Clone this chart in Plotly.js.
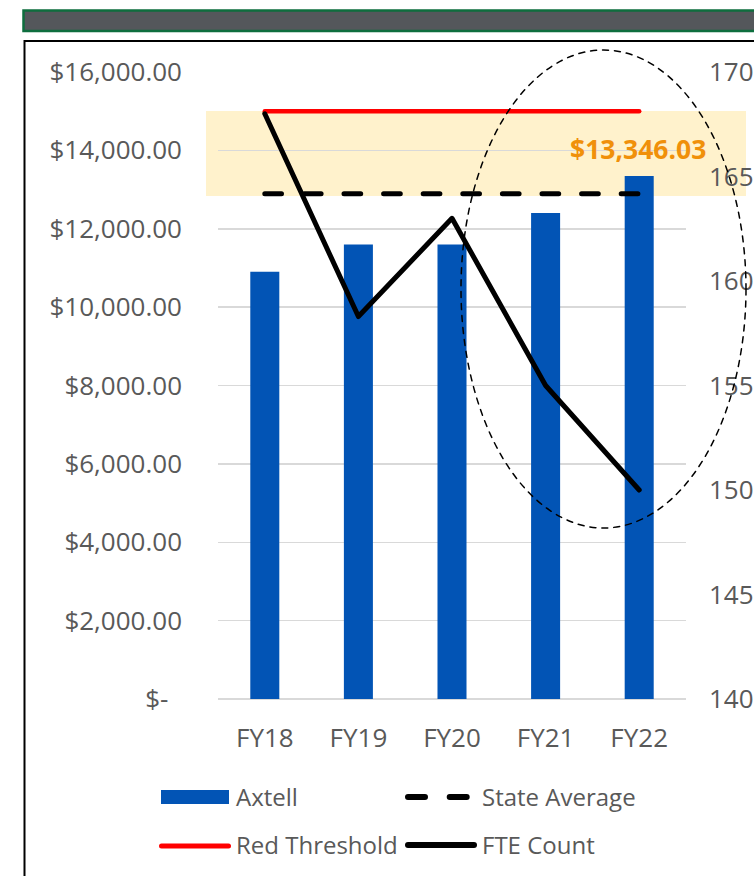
<!DOCTYPE html>
<html>
<head>
<meta charset="utf-8">
<script src="https://cdn.plot.ly/plotly-3.0.1.min.js"></script>
<style>
  html, body { margin: 0; padding: 0; background: #ffffff; }
  #chart { width: 754px; height: 876px; }
  .scatterlayer .js-line { stroke-linecap: round !important; stroke-linejoin: round !important; }
  .shapelayer path { stroke-linecap: round; }
</style>
</head>
<body>
<div id="chart"></div>
<script>
// ---- data ----
const categories = ['FY18', 'FY19', 'FY20', 'FY21', 'FY22'];
const axtell = [10900, 11600, 11600, 12400, 13346.03];
const stateAverage = [12890, 12890, 12890, 12890, 12890];
const redThreshold = [15000, 15000, 15000, 15000, 15000];
const fteCount = [168, 158.3, 163, 155, 150];
const leftTickVals = [0, 2000, 4000, 6000, 8000, 10000, 12000, 14000, 16000];
const leftTickText = ['$-\u00a0\u00a0', '$2,000.00', '$4,000.00', '$6,000.00', '$8,000.00',
                      '$10,000.00', '$12,000.00', '$14,000.00', '$16,000.00'];
const rightTickVals = [140, 145, 150, 155, 160, 165, 170];
const seriesNames = ['Axtell', 'State Average', 'Red Threshold', 'FTE Count'];
const highlightedIndex = 4;

// ---- styles ----
const FONT = 'Open Sans, Noto Sans, sans-serif';
const GREY_TEXT = '#595959';
const BAR_BLUE = '#0254B5';
const ORANGE = '#F0900A';
const M = { l: 218, r: 68, t: 72, b: 177 };
const W = 754, H = 876;
const PW = W - M.l - M.r, PH = H - M.t - M.b;
const px = v => (v - M.l) / PW;          // page pixel x -> paper
const py = v => (H - M.b - v) / PH;      // page pixel y -> paper

const fmtMoney = v => '$' + v.toLocaleString('en-US', { minimumFractionDigits: 2, maximumFractionDigits: 2 });

const traces = [
  { type: 'bar', name: seriesNames[0], x: categories, y: axtell, yaxis: 'y',
    marker: { color: BAR_BLUE }, hoverinfo: 'skip' },
  { type: 'scatter', mode: 'lines', name: seriesNames[2], x: categories, y: redThreshold, yaxis: 'y',
    line: { color: '#FF0000', width: 4.5 }, hoverinfo: 'skip' },
  { type: 'scatter', mode: 'lines', name: seriesNames[1], x: categories, y: stateAverage, yaxis: 'y',
    line: { color: '#000000', width: 5, dash: '16.7px,22.9px' }, hoverinfo: 'skip' },
  { type: 'scatter', mode: 'lines', name: seriesNames[3], x: categories, y: fteCount, yaxis: 'y2',
    line: { color: '#000000', width: 5 }, hoverinfo: 'skip' }
];

const shapes = [
  // top banner
  { type: 'rect', xref: 'paper', yref: 'paper', layer: 'above',
    x0: px(23.5), x1: px(770), y0: py(31), y1: py(10.5),
    fillcolor: '#54575B', line: { color: '#0E6E3E', width: 2.5 } },
  // outer frame
  { type: 'rect', xref: 'paper', yref: 'paper', layer: 'below',
    x0: px(24.5), x1: px(790), y0: py(900), y1: py(41),
    fillcolor: 'rgba(0,0,0,0)', line: { color: '#000000', width: 2 } },
  // highlight band
  { type: 'rect', xref: 'paper', yref: 'paper', layer: 'below',
    x0: px(206), x1: px(746), y0: py(196), y1: py(111),
    fillcolor: '#FFF2CC', line: { width: 0 } },
  // dashed ellipse
  { type: 'circle', xref: 'paper', yref: 'paper', layer: 'above',
    x0: px(461), x1: px(746), y0: py(528), y1: py(50),
    line: { color: '#000000', width: 1.5, dash: '6px,6px' } },
  // legend symbols
  { type: 'rect', xref: 'paper', yref: 'paper', layer: 'above',
    x0: px(161), x1: px(229), y0: py(804), y1: py(790),
    fillcolor: BAR_BLUE, line: { width: 0 } },
  { type: 'line', xref: 'paper', yref: 'paper', layer: 'above',
    x0: px(408), x1: px(467), y0: py(797), y1: py(797),
    line: { color: '#000000', width: 6, dash: '17px,24.7px' } },
  { type: 'line', xref: 'paper', yref: 'paper', layer: 'above',
    x0: px(161.5), x1: px(228.5), y0: py(846), y1: py(846),
    line: { color: '#FF0000', width: 5 } },
  { type: 'line', xref: 'paper', yref: 'paper', layer: 'above',
    x0: px(408), x1: px(474), y0: py(845), y1: py(845),
    line: { color: '#000000', width: 6 } }
];

const legendFont = { family: FONT, size: 24, color: GREY_TEXT };
const annotations = [
  { xref: 'x', yref: 'y', x: categories[highlightedIndex], y: axtell[highlightedIndex],
    text: '<b>' + fmtMoney(axtell[highlightedIndex]) + '</b>', showarrow: false,
    xanchor: 'center', yanchor: 'middle', xshift: -1.5, yshift: 27,
    font: { family: FONT, size: 26.5, color: ORANGE } },
  { xref: 'paper', yref: 'paper', x: px(234), y: py(796), text: seriesNames[0], showarrow: false,
    xanchor: 'left', yanchor: 'middle', font: legendFont },
  { xref: 'paper', yref: 'paper', x: px(480), y: py(796), text: seriesNames[1], showarrow: false,
    xanchor: 'left', yanchor: 'middle', font: legendFont },
  { xref: 'paper', yref: 'paper', x: px(234), y: py(844), text: seriesNames[2], showarrow: false,
    xanchor: 'left', yanchor: 'middle', font: legendFont },
  { xref: 'paper', yref: 'paper', x: px(480), y: py(844), text: seriesNames[3], showarrow: false,
    xanchor: 'left', yanchor: 'middle', font: legendFont }
];

const tickFont = { family: FONT, size: 26, color: GREY_TEXT };

const layout = {
  width: W, height: H,
  margin: M,
  paper_bgcolor: '#FFFFFF',
  plot_bgcolor: 'rgba(0,0,0,0)',
  showlegend: false,
  bargap: 0.69,
  font: { family: FONT, color: GREY_TEXT },
  xaxis: {
    type: 'category', categoryarray: categories, range: [-0.5, categories.length - 0.5],
    showgrid: false, showline: false, zeroline: false, ticks: '',
    tickfont: tickFont, ticklabelstandoff: 21
  },
  yaxis: {
    range: [0, 16000], tickmode: 'array', tickvals: leftTickVals, ticktext: leftTickText,
    showgrid: true, gridcolor: '#D9D9D9', gridwidth: 1.5,
    zeroline: true, zerolinecolor: '#D9D9D9', zerolinewidth: 1.5,
    showline: false, ticks: '', tickfont: tickFont, ticklabelstandoff: 35
  },
  yaxis2: {
    overlaying: 'y', side: 'right', range: [140, 170], tickmode: 'array', tickvals: rightTickVals,
    showgrid: false, zeroline: false, showline: false, ticks: '',
    tickfont: tickFont, ticklabelstandoff: 22
  },
  shapes: shapes,
  annotations: annotations
};

Plotly.newPlot('chart', traces, layout, { staticPlot: true, displayModeBar: false });
</script>
</body>
</html>
